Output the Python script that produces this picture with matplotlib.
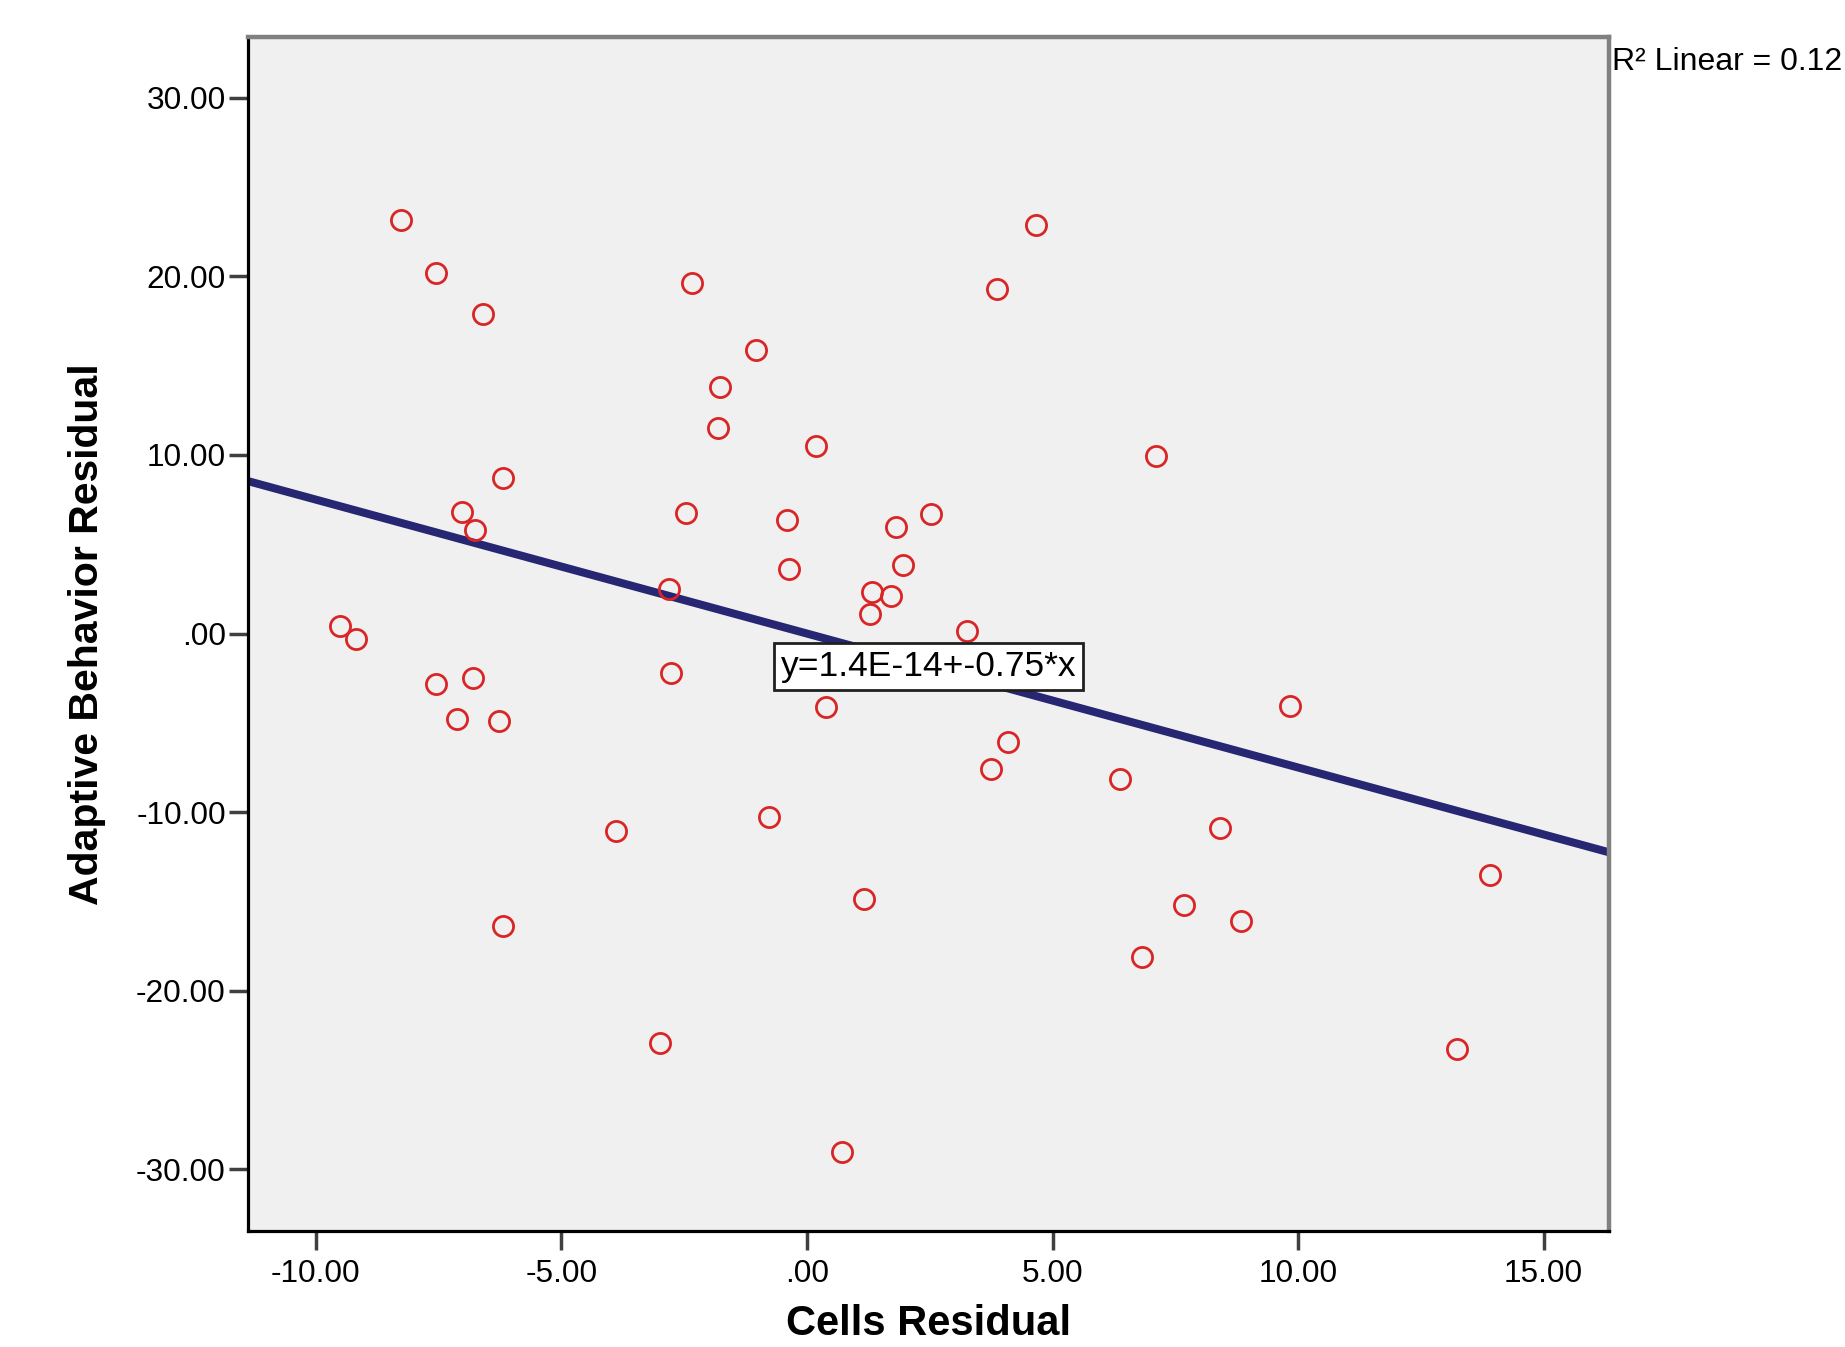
import matplotlib
matplotlib.use("Agg")
import matplotlib.pyplot as plt
import numpy as np

plt.rcParams['font.family'] = ['Liberation Sans', 'DejaVu Sans']

# Data
cells_residual = [
    -8.27, -7.55, -6.60, -2.35, -1.04, -1.76, -1.81, 0.19, 4.67, 3.86,
    7.10, -6.19, -7.03, -6.75, -2.47, -0.41, -0.36, 1.82, 2.52, 1.95,
    1.32, 1.72, 1.29, -2.80, 3.26, -9.50, -9.19, -7.55, -6.80, -7.12,
    -6.27, -2.76, 0.39, 4.10, 3.74, 6.38, 9.83, 8.42, 7.67, 8.83,
    6.82, 13.90, 13.23, -3.89, -0.77, 1.16, -6.19, -3.00, 0.71,
]
adaptive_residual = [
    23.17, 20.20, 17.87, 19.60, 15.87, 13.80, 11.52, 10.50, 22.90, 19.27,
    9.94, 8.70, 6.82, 5.77, 6.77, 6.33, 3.60, 5.95, 6.72, 3.83,
    2.32, 2.13, 1.07, 2.50, 0.15, 0.45, -0.30, -2.80, -2.50, -4.78,
    -4.88, -2.23, -4.13, -6.07, -7.60, -8.15, -4.03, -10.87, -15.22, -16.10,
    -18.12, -13.50, -23.27, -11.07, -10.27, -14.85, -16.37, -22.95, -29.00,
]
fit_intercept = 1.4e-14
fit_slope = -0.75
r_squared_text = "R² Linear = 0.12"
equation_text = "y=1.4E-14+-0.75*x"

xticks = [-10, -5, 0, 5, 10, 15]
xticklabels = ["-10.00", "-5.00", ".00", "5.00", "10.00", "15.00"]
yticks = [-30, -20, -10, 0, 10, 20, 30]
yticklabels = ["-30.00", "-20.00", "-10.00", ".00", "10.00", "20.00", "30.00"]
xlim = (-11.38, 16.33)
ylim = (-33.45, 33.4)

fig = plt.figure(figsize=(18.45, 13.47), dpi=100)
ax = fig.add_axes([248/1845, 1 - 1231/1347, (1609-248)/1845, (1231-37)/1347])
ax.set_facecolor('#F0F0F0')

ax.set_xlim(*xlim)
ax.set_ylim(*ylim)

# regression line
xl = np.array(xlim)
ax.plot(xl, fit_intercept + fit_slope * xl, color='#262673', lw=5.8,
        solid_capstyle='butt', zorder=2)

# points
ax.plot(cells_residual, adaptive_residual, linestyle='none', marker='o',
        markersize=14.5, markerfacecolor='none', markeredgecolor='#D92525',
        markeredgewidth=2.0, zorder=3)

# spines
for s in ['left', 'bottom']:
    ax.spines[s].set_color('black')
    ax.spines[s].set_linewidth(2.3)
for s in ['top', 'right']:
    ax.spines[s].set_color('#808080')
    ax.spines[s].set_linewidth(3.2)

ax.set_xticks(xticks)
ax.set_xticklabels(xticklabels)
ax.set_yticks(yticks)
ax.set_yticklabels(yticklabels)
ax.tick_params(axis='both', direction='out', length=14, width=2.5,
               color='#404040', labelsize=22.8, labelcolor='black')
ax.tick_params(axis='y', pad=2)
ax.tick_params(axis='x', pad=6)

xlab = ax.set_xlabel("Cells Residual", fontsize=30, fontweight='bold')
xlab.set_verticalalignment('bottom')
ax.set_ylabel("Adaptive Behavior Residual", fontsize=29.5, fontweight='bold')
ax.xaxis.set_label_coords(0.5, (1231 - 1344) / 1194)
ax.yaxis.set_label_coords(-0.104, 0.5)

ax.text(0.5, 0.473, equation_text, transform=ax.transAxes, fontsize=25.5,
        ha='center', va='center', zorder=5,
        bbox=dict(boxstyle='square,pad=0.2', facecolor='white',
                  edgecolor='#202020', linewidth=2.0))

fig.text(1612/1845, 1 - 47/1347, r_squared_text, fontsize=23,
         ha='left', va='top')

fig.savefig("out.png", dpi=100)
